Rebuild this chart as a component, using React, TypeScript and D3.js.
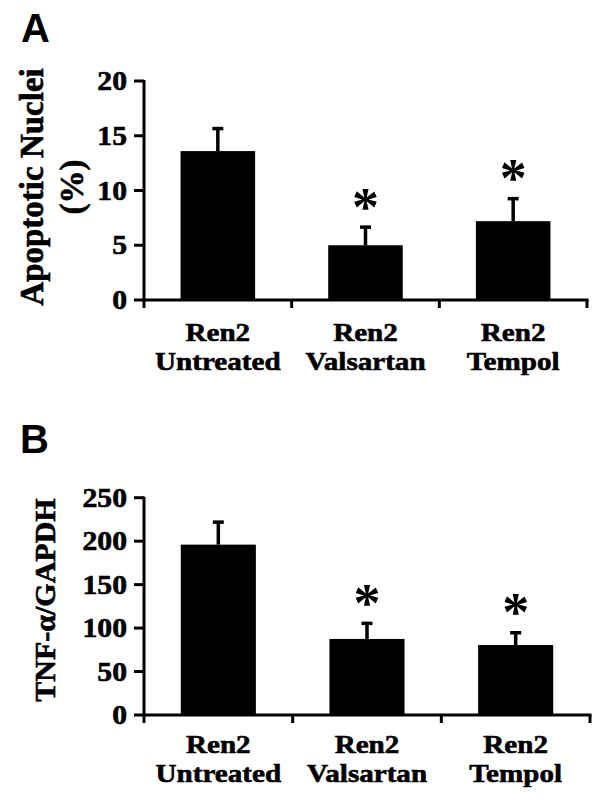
import React from "react";
import * as d3 from "d3";

const groups = ["Ren2 Untreated", "Ren2 Valsartan", "Ren2 Tempol"];
const groupLine1 = ["Ren2", "Ren2", "Ren2"];
const groupLine2 = ["Untreated", "Valsartan", "Tempol"];

const apoptosisMean = [13.6, 5.0, 7.2];
const apoptosisSem = [2.1, 1.7, 2.1];
const apoptosisSig = [false, true, true];
const apoptosisTicks = [0, 5, 10, 15, 20];

const tnfMean = [196, 87.5, 80.5];
const tnfSem = [26.5, 18.5, 14.7];
const tnfSig = [false, true, true];
const tnfTicks = [0, 50, 100, 150, 200, 250];

const SERIF = "'Liberation Serif', 'Times New Roman', serif";
const SANS = "'Liberation Sans', Arial, sans-serif";

type PanelProps = {
  letter: string;
  letterY: number;
  means: number[];
  sems: number[];
  sig: boolean[];
  ticks: number[];
  yMax: number;
  top: number;
  zero: number;
  left: number;
  right: number;
  yLabel: string[];
  yLabelSize: number;
  yLabelX: number[];
  yLabelCenter: number;
  catY1: number;
  catY2: number;
};

const heavy = { stroke: "#000", strokeWidth: 0.6 };

function Panel(p: PanelProps) {
  const y = d3.scaleLinear().domain([0, p.yMax]).range([p.zero, p.top]);
  const xBand = d3
    .scaleBand<string>()
    .domain(groups)
    .range([p.left, p.right])
    .paddingInner(0.495)
    .paddingOuter(0.2475);
  const xBound = d3.scaleBand<string>().domain(groups).range([p.left, p.right]).padding(0);
  const bw = xBand.bandwidth();
  const sx = 1.12;
  return (
    <g>
      <text x={p.letter === "A" ? 21 : 20} y={p.letterY} fontFamily={SANS} fontWeight="bold" fontSize={40} fill="#000">
        {p.letter}
      </text>
      {p.yLabel.map((t, i) => (
        <text
          key={i}
          transform={`translate(${p.yLabelX[i]},${p.yLabelCenter}) rotate(-90)`}
          textAnchor="middle"
          fontFamily={SERIF}
          fontWeight="bold"
          fontSize={p.yLabelSize}
          fill="#000"
          {...heavy}
        >
          {t}
        </text>
      ))}
      {groups.map((g, i) => (
        <rect key={g} x={xBand(g)!} y={y(p.means[i])} width={bw} height={p.zero - y(p.means[i])} fill="#000" />
      ))}
      {groups.map((g, i) => {
        const cx = xBand(g)! + bw / 2;
        const yt = y(p.means[i] + p.sems[i]);
        return (
          <g key={g}>
            <line x1={cx} x2={cx} y1={y(p.means[i])} y2={yt} stroke="#000" strokeWidth={3.5} />
            <line x1={cx - 5.5} x2={cx + 5.5} y1={yt + 0.5} y2={yt + 0.5} stroke="#000" strokeWidth={3.5} />
            {p.sig[i] && (
              <text x={cx} y={yt - 2} textAnchor="middle" fontFamily={SERIF} fontWeight="bold" fontSize={54} fill="#000">
                *
              </text>
            )}
          </g>
        );
      })}
      <line x1={p.left} x2={p.left} y1={p.top - 1} y2={p.zero + 8} stroke="#000" strokeWidth={3} />
      {p.ticks.map((t) => (
        <g key={t}>
          <line x1={p.left - 10} x2={p.left} y1={y(t)} y2={y(t)} stroke="#000" strokeWidth={3} />
          <text
            transform={`translate(${p.left - 17},${y(t) + 9}) scale(${sx},1)`}
            textAnchor="end"
            fontFamily={SERIF}
            fontWeight="bold"
            fontSize={26.5}
            fill="#000"
            {...heavy}
          >
            {t}
          </text>
        </g>
      ))}
      <line x1={p.left} x2={p.right + 1.5} y1={p.zero} y2={p.zero} stroke="#000" strokeWidth={3} />
      {groups.map((g) => {
        const xr = xBound(g)! + xBound.bandwidth();
        return <line key={g} x1={xr} x2={xr} y1={p.zero} y2={p.zero + 8} stroke="#000" strokeWidth={3} />;
      })}
      {groups.map((g, i) => {
        const cx = xBand(g)! + bw / 2;
        return (
          <g key={g}>
            <text
              transform={`translate(${cx},${p.catY1}) scale(${sx},1)`}
              textAnchor="middle"
              fontFamily={SERIF}
              fontWeight="bold"
              fontSize={26}
              fill="#000"
              {...heavy}
            >
              {groupLine1[i]}
            </text>
            <text
              transform={`translate(${cx},${p.catY2}) scale(${sx},1)`}
              textAnchor="middle"
              fontFamily={SERIF}
              fontWeight="bold"
              fontSize={26}
              fill="#000"
              {...heavy}
            >
              {groupLine2[i]}
            </text>
          </g>
        );
      })}
    </g>
  );
}

export default function App() {
  return (
    <svg
      width={600}
      height={802}
      viewBox="0 0 600 802"
      style={{ position: "absolute", left: 0, top: 0, background: "#fff" }}
    >
      <rect width={600} height={802} fill="#fff" />
      <Panel
        letter="A"
        letterY={41.5}
        means={apoptosisMean}
        sems={apoptosisSem}
        sig={apoptosisSig}
        ticks={apoptosisTicks}
        yMax={20}
        top={81}
        zero={300}
        left={144}
        right={587}
        yLabel={["Apoptotic Nuclei", "(%)"]}
        yLabelSize={33}
        yLabelX={[43, 83]}
        yLabelCenter={187}
        catY1={341}
        catY2={370}
      />
      <Panel
        letter="B"
        letterY={453}
        means={tnfMean}
        sems={tnfSem}
        sig={tnfSig}
        ticks={tnfTicks}
        yMax={250}
        top={497.7}
        zero={715}
        left={144}
        right={590}
        yLabel={["TNF-α/GAPDH"]}
        yLabelSize={30}
        yLabelX={[55]}
        yLabelCenter={600}
        catY1={752.5}
        catY2={781.5}
      />
    </svg>
  );
}
